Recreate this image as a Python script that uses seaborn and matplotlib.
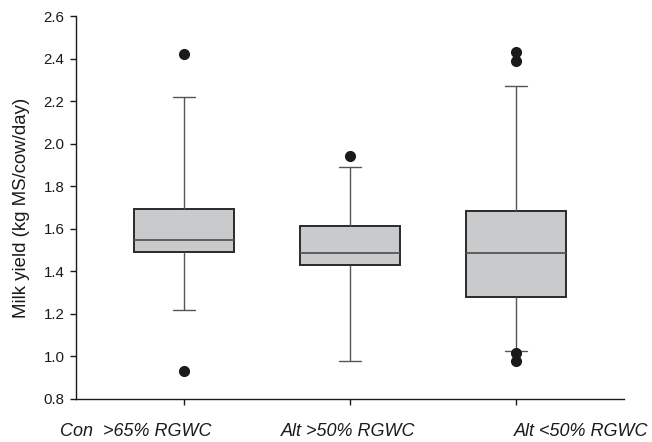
import matplotlib
matplotlib.use("Agg")
import matplotlib.pyplot as plt
import matplotlib.transforms as mtransforms
import seaborn as sns
import pandas as pd

con_65 = [0.93, 1.22, 1.30, 1.38, 1.45, 1.49, 1.50, 1.52, 1.53, 1.54, 1.545,
          1.58, 1.61, 1.64, 1.67, 1.695, 1.78, 1.88, 2.02, 2.22, 2.42]
alt_50_hi = [0.98, 0.98, 1.15, 1.28, 1.38, 1.43, 1.44, 1.45, 1.46, 1.47, 1.485,
             1.51, 1.54, 1.57, 1.60, 1.615, 1.66, 1.72, 1.80, 1.89, 1.94]
alt_50_lo = [0.98, 1.015, 1.025, 1.06, 1.10, 1.13, 1.16, 1.19, 1.22, 1.25, 1.28,
             1.30, 1.32, 1.34, 1.36, 1.38, 1.40, 1.42, 1.44, 1.46, 1.485,
             1.50, 1.52, 1.54, 1.56, 1.58, 1.60, 1.62, 1.64, 1.66, 1.685,
             1.72, 1.76, 1.80, 1.86, 1.92, 2.00, 2.10, 2.27, 2.39, 2.43]
groups = ["Con  >65% RGWC", "Alt >50% RGWC", "Alt <50% RGWC"]

df = pd.DataFrame({
    "group": [groups[0]] * len(con_65) + [groups[1]] * len(alt_50_hi) + [groups[2]] * len(alt_50_lo),
    "value": con_65 + alt_50_hi + alt_50_lo,
})

sns.set_style("ticks")
plt.rcParams["font.family"] = ["Liberation Sans", "DejaVu Sans"]

fig = plt.figure(figsize=(6.52, 4.42), dpi=100)
ax = fig.add_axes([0.1166, 0.0973, 0.8405, 0.8665])

sns.boxplot(data=df, x="group", y="value", order=groups, ax=ax,
            width=0.6, whis=(4, 96), color="#c9cacc", linecolor="#2a2a2a",
            linewidth=1.4, capwidths=0.13,
            medianprops=dict(color="#555555", linewidth=1.3),
            whiskerprops=dict(color="#555555", linewidth=1.0),
            capprops=dict(color="#555555", linewidth=1.0),
            flierprops=dict(marker="o", markerfacecolor="#1a1a1a",
                            markeredgecolor="#1a1a1a", markersize=7))

ax.set_xlim(-0.65, 2.65)
ax.set_ylim(0.8, 2.6)
ax.set_yticks([0.8, 1.0, 1.2, 1.4, 1.6, 1.8, 2.0, 2.2, 2.4, 2.6])
ax.set_yticklabels([f"{v:.1f}" for v in ax.get_yticks()])
ax.set_xlabel("")
ax.set_ylabel("Milk yield (kg MS/cow/day)", fontsize=13.4, labelpad=10, color="#1a1a1a")

for side in ["top", "right"]:
    ax.spines[side].set_visible(False)
for side in ["left", "bottom"]:
    ax.spines[side].set_linewidth(1.0)
    ax.spines[side].set_color("#1a1a1a")

ax.tick_params(axis="y", length=4.3, width=1.0, pad=4, labelsize=10.8, color="#1a1a1a", labelcolor="#1a1a1a")
ax.tick_params(axis="x", length=4.5, width=1.0, pad=13, labelsize=13, color="#1a1a1a", labelcolor="#1a1a1a")

# x labels sit off their ticks in the original
shifts = [-48, -2, 65]
for lab, dx in zip(ax.get_xticklabels(), shifts):
    lab.set_fontstyle("italic")
    lab.set_transform(lab.get_transform() + mtransforms.ScaledTranslation(dx / 100, 0, fig.dpi_scale_trans))

fig.savefig("out.png", dpi=100)
